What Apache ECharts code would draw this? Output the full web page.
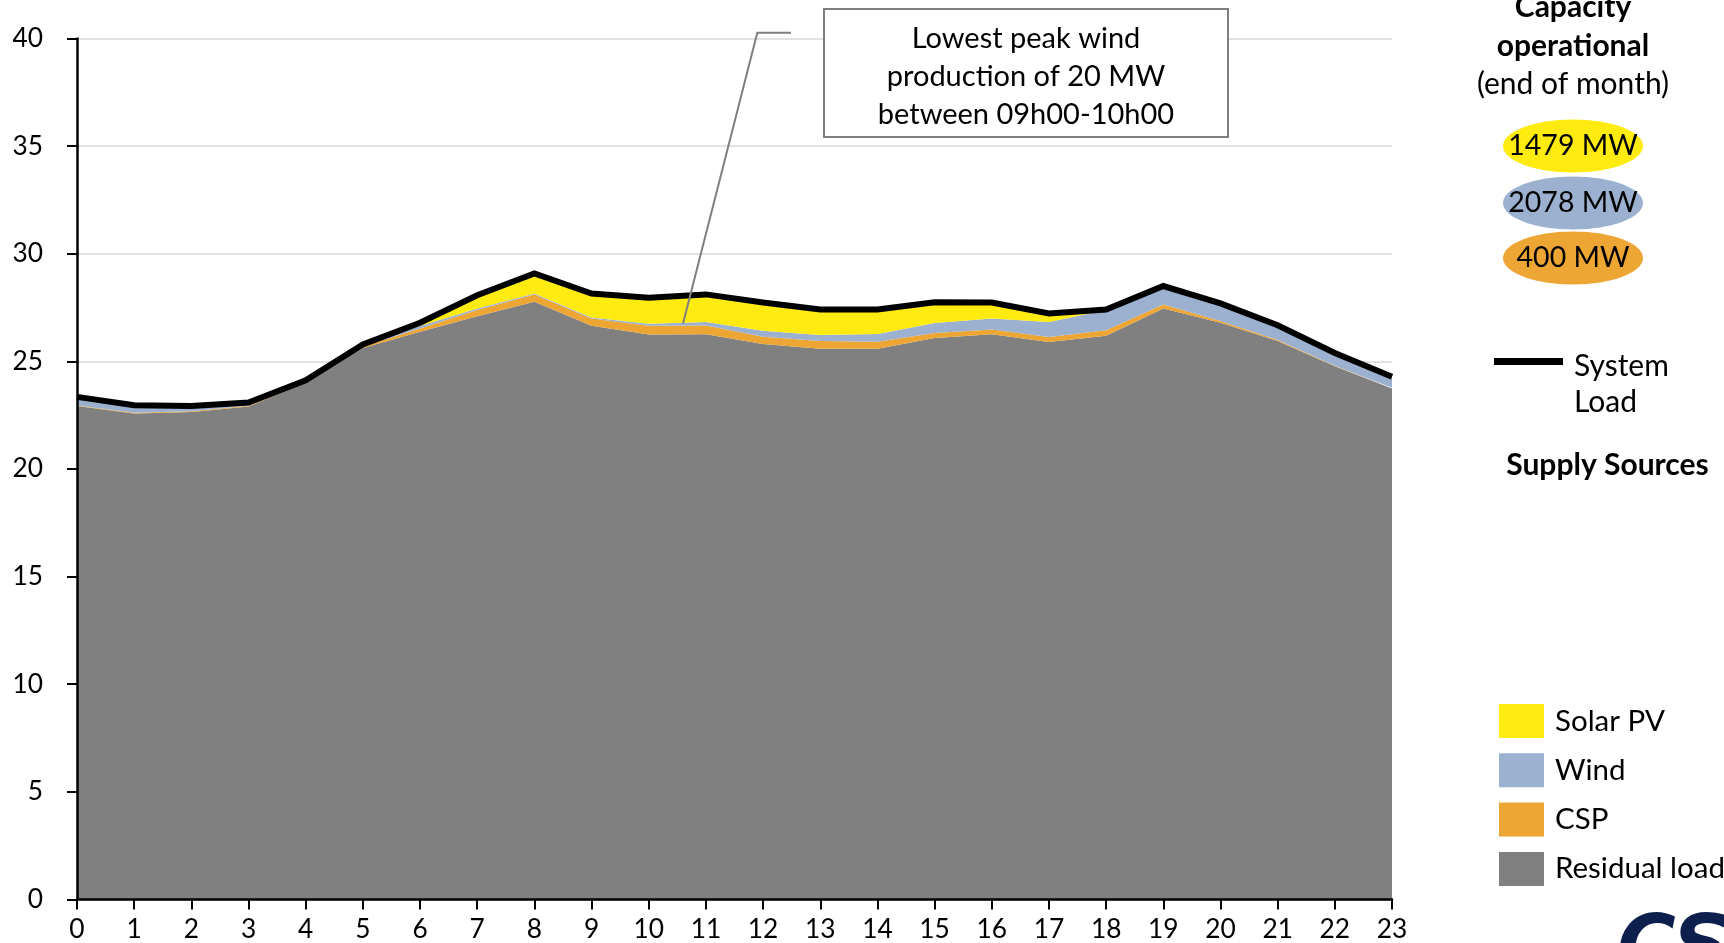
<!DOCTYPE html>
<html>
<head>
<meta charset="utf-8">
<script src="https://cdn.jsdelivr.net/npm/echarts@6/dist/echarts.min.js"></script>
<style>
  html, body { margin: 0; padding: 0; background: #ffffff; }
  #chart { width: 1724px; height: 943px; }
</style>
</head>
<body>
<div id="chart"></div>
<script>
// Hourly profile (GW): supply sources stacked under the system load
const hours = ['0','1','2','3','4','5','6','7','8','9','10','11','12','13','14','15','16','17','18','19','20','21','22','23'];
const systemLoad   = [23.35,22.96,22.93,23.09,24.12,25.78,26.79,28.07,29.08,28.15,27.96,28.11,27.73,27.41,27.41,27.75,27.73,27.22,27.41,28.50,27.69,26.68,25.39,24.28];
const residualLoad = [22.92,22.58,22.65,22.90,24.02,25.62,26.37,27.09,27.77,26.65,26.25,26.26,25.80,25.58,25.58,26.09,26.26,25.90,26.19,27.45,26.79,25.94,24.77,23.74];
const cspGen       = [0.03,0.03,0.03,0.04,0.04,0.07,0.15,0.30,0.34,0.34,0.40,0.40,0.34,0.36,0.33,0.23,0.22,0.23,0.26,0.19,0.08,0.05,0.03,0.03];
const windGen      = [0.40,0.35,0.25,0.15,0.06,0.06,0.12,0.06,0.04,0.05,0.10,0.17,0.28,0.28,0.36,0.46,0.51,0.70,0.94,0.86,0.82,0.69,0.59,0.51];
const solarGen     = [0,0,0,0,0,0.03,0.15,0.62,0.93,1.11,1.21,1.28,1.31,1.19,1.14,0.97,0.74,0.39,0.02,0,0,0,0,0];

// Installed capacity badges
const capacityLabels = ['1479 MW', '2078 MW', '400 MW'];

// Callout text and the point it refers to (hour position, GW)
const calloutLines = ['Lowest peak wind', 'production of 20 MW', 'between 09h00-10h00'];
const calloutAnchor = [10.6, 26.76];

const COLORS = {
  solar: '#FFEB0F',
  wind: '#9CB1CF',
  csp: '#EDA534',
  residual: '#808080',
  load: '#000000'
};

const FONT = 'Lato';
const chart = echarts.init(document.getElementById('chart'), null, { renderer: 'canvas' });

function areaSeries(name, data, color) {
  return {
    name: name,
    type: 'line',
    stack: 'supply',
    data: data,
    symbol: 'none',
    smooth: false,
    lineStyle: { width: 0 },
    areaStyle: { color: color, opacity: 1 },
    itemStyle: { color: color },
    emphasis: { disabled: true },
    z: 2
  };
}

const option = {
  animation: false,
  textStyle: { fontFamily: FONT },
  grid: { left: 77, right: 332, top: 38.5, bottom: 43.6, containLabel: false, outerBoundsMode: 'none' },
  xAxis: {
    type: 'category',
    data: hours,
    boundaryGap: false,
    z: 6,
    axisLine: { show: true, lineStyle: { color: '#000', width: 2.5 } },
    axisTick: { show: true, interval: 0, length: 10, lineStyle: { color: '#000', width: 2 } },
    axisLabel: { interval: 0, margin: 17, color: '#000', fontSize: 26.3, fontFamily: FONT },
    splitLine: { show: false }
  },
  yAxis: [
    {
      // gridlines, kept beneath the areas
      type: 'value',
      min: 0, max: 40, interval: 5,
      axisLine: { show: false },
      axisTick: { show: false },
      axisLabel: { show: false },
      splitLine: { show: true, lineStyle: { color: '#d9d9d9', width: 1.5 } }
    },
    {
      // axis line, ticks and labels drawn above the areas
      type: 'value',
      position: 'left',
      min: 0, max: 40, interval: 5,
      z: 6,
      axisLine: { show: true, onZero: false, lineStyle: { color: '#000', width: 2.5 } },
      axisTick: { show: true, length: 10, lineStyle: { color: '#000', width: 2 } },
      axisLabel: { margin: 34, color: '#000', fontSize: 26.3, fontFamily: FONT },
      splitLine: { show: false }
    }
  ],
  legend: {
    orient: 'vertical',
    left: 1494, top: 699,
    itemWidth: 45, itemHeight: 34, itemGap: 15.3,
    icon: 'rect',
    data: ['Solar PV', 'Wind', 'CSP', 'Residual load'],
    textStyle: { fontSize: 29.5, color: '#000', fontFamily: FONT, padding: [0, 0, 0, 6] },
    selectedMode: false
  },
  series: [
    areaSeries('Residual load', residualLoad, COLORS.residual),
    areaSeries('CSP', cspGen, COLORS.csp),
    areaSeries('Wind', windGen, COLORS.wind),
    areaSeries('Solar PV', solarGen, COLORS.solar),
    {
      name: 'System Load',
      type: 'line',
      data: systemLoad,
      symbol: 'none',
      lineStyle: { color: COLORS.load, width: 6, join: 'miter' },
      itemStyle: { color: COLORS.load },
      emphasis: { disabled: true },
      z: 5
    }
  ]
};

chart.setOption(option);

// Leader line end point between two hour positions
const pA = chart.convertToPixel({ gridIndex: 0 }, [Math.floor(calloutAnchor[0]), calloutAnchor[1]]);
const pB = chart.convertToPixel({ gridIndex: 0 }, [Math.ceil(calloutAnchor[0]), calloutAnchor[1]]);
const frac = calloutAnchor[0] - Math.floor(calloutAnchor[0]);
const anchorX = pA[0] + (pB[0] - pA[0]) * frac;
const anchorY = pA[1];

const panelText = { fontFamily: FONT, fontSize: 30, fill: '#000' };
const calloutText = { fontFamily: FONT, fontSize: 29, fill: '#000' };
const graphics = [];

// Callout box with leader line
graphics.push({
  type: 'polyline', z: 20,
  shape: { points: [[791, 32.7], [757.3, 32.7], [anchorX, anchorY]] },
  style: { stroke: '#7f7f7f', lineWidth: 2, fill: null }
});
graphics.push({
  type: 'rect', z: 20,
  shape: { x: 824, y: 9, width: 404, height: 128 },
  style: { fill: '#fff', stroke: '#7f7f7f', lineWidth: 2 }
});
calloutLines.forEach(function (t, i) {
  graphics.push({
    type: 'text', z: 21, x: 1026, y: 39 + i * 38,
    style: Object.assign({}, calloutText, { text: t, align: 'center', verticalAlign: 'middle' })
  });
});

// Capacity panel
graphics.push({ type: 'text', z: 20, x: 1573, y: 7.5,
  style: Object.assign({}, panelText, { text: 'Capacity', fontWeight: 'bold', align: 'center', verticalAlign: 'middle' }) });
graphics.push({ type: 'text', z: 20, x: 1573, y: 46,
  style: Object.assign({}, panelText, { text: 'operational', fontWeight: 'bold', align: 'center', verticalAlign: 'middle' }) });
graphics.push({ type: 'text', z: 20, x: 1573, y: 84.5,
  style: Object.assign({}, panelText, { text: '(end of month)', align: 'center', verticalAlign: 'middle' }) });

const badgeColors = [COLORS.solar, COLORS.wind, COLORS.csp];
const badgeY = [146, 203, 258];
capacityLabels.forEach(function (t, i) {
  graphics.push({ type: 'ellipse', z: 20,
    shape: { cx: 1573, cy: badgeY[i], rx: 70, ry: 26.5 },
    style: { fill: badgeColors[i] } });
  graphics.push({ type: 'text', z: 21, x: 1573, y: badgeY[i],
    style: Object.assign({}, panelText, { text: t, fontSize: 28.5, align: 'center', verticalAlign: 'middle' }) });
});

// System load key
graphics.push({ type: 'rect', z: 20, shape: { x: 1494, y: 358, width: 69, height: 7 }, style: { fill: '#000' } });
graphics.push({ type: 'text', z: 20, x: 1574, y: 366.7,
  style: Object.assign({}, panelText, { text: 'System', align: 'left', verticalAlign: 'middle' }) });
graphics.push({ type: 'text', z: 20, x: 1574, y: 402.7,
  style: Object.assign({}, panelText, { text: 'Load', align: 'left', verticalAlign: 'middle' }) });
graphics.push({ type: 'text', z: 20, x: 1607.5, y: 465,
  style: Object.assign({}, panelText, { text: 'Supply Sources', fontWeight: 'bold', align: 'center', verticalAlign: 'middle' }) });

// Corner logo
graphics.push({ type: 'text', z: 20, x: 1617, y: 911,
  style: { text: 'CS', fill: '#0d1f4d', fontFamily: 'DejaVu Sans', fontWeight: 'bold', fontStyle: 'italic', fontSize: 80, align: 'left', verticalAlign: 'top' } });

chart.setOption({ graphic: graphics });
</script>
</body>
</html>
